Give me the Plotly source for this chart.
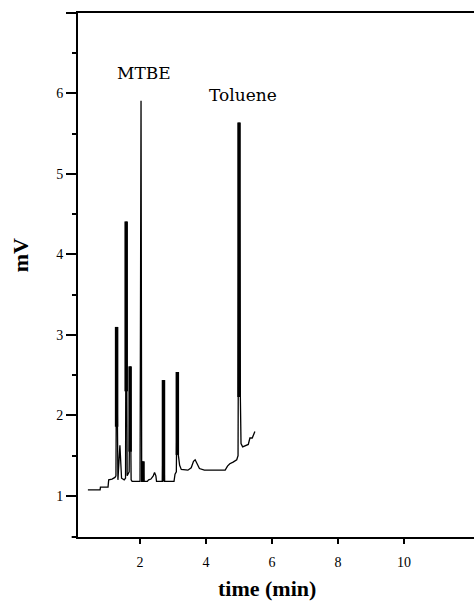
import plotly.graph_objects as go

# Chromatogram trace (time in min, signal in mV)
time_min = [0.42, 0.79, 0.80, 1.03, 1.05, 1.15, 1.24, 1.27, 1.29, 1.31, 1.33, 1.39, 1.44,
            1.52, 1.56, 1.58, 1.61, 1.67, 1.70, 1.73, 1.76, 2.00, 2.03, 2.05, 2.07, 2.09,
            2.11, 2.22, 2.26, 2.33, 2.40, 2.44, 2.48, 2.50, 2.68, 2.71, 2.74, 3.03, 3.06,
            3.10, 3.13, 3.16, 3.20, 3.25, 3.45, 3.55, 3.62, 3.67, 3.72, 3.80, 3.95, 4.58,
            4.65, 4.72, 4.82, 4.93, 4.97, 5.00, 5.04, 5.06, 5.11, 5.18, 5.28, 5.33, 5.40,
            5.48]
signal_mv = [1.075, 1.075, 1.11, 1.11, 1.20, 1.21, 1.23, 1.25, 3.10, 1.25, 1.20, 1.63, 1.22,
             1.20, 1.22, 4.41, 1.25, 1.30, 2.61, 1.20, 1.18, 1.18, 5.91, 1.18, 1.18, 1.43,
             1.18, 1.18, 1.20, 1.21, 1.25, 1.29, 1.25, 1.18, 1.18, 2.44, 1.18, 1.18, 1.27,
             1.30, 2.54, 1.51, 1.38, 1.33, 1.32, 1.35, 1.43, 1.45, 1.40, 1.34, 1.32, 1.32,
             1.37, 1.40, 1.42, 1.45, 1.50, 5.64, 2.23, 1.65, 1.61, 1.62, 1.64, 1.72, 1.72,
             1.80]

# Heavily over-plotted (thick) parts of the peaks
thick_time = [1.29, 1.58, 1.70, 2.09, 2.71, 3.13, 5.00]
thick_top = [3.10, 4.41, 2.61, 1.43, 2.44, 2.54, 5.64]
thick_bottom = [1.86, 2.30, 1.55, 1.18, 1.18, 1.51, 2.23]

peak_labels = ["MTBE", "Toluene"]
peak_label_time = [2.12, 5.12]
peak_label_mv = [6.25, 5.98]

x_ticks = [2, 4, 6, 8, 10]
y_ticks = [1, 2, 3, 4, 5, 6, 7]
y_ticktext = ["1", "2", "3", "4", "5", "6", ""]

fig = go.Figure()
fig.add_trace(go.Scatter(x=time_min, y=signal_mv, mode="lines",
                         line=dict(color="black", width=1.3), hoverinfo="skip",
                         showlegend=False))

tx, ty = [], []
for t, top, bot in zip(thick_time, thick_top, thick_bottom):
    tx += [t, t, None]
    ty += [bot, top, None]
fig.add_trace(go.Scatter(x=tx, y=ty, mode="lines",
                         line=dict(color="black", width=3.5), hoverinfo="skip",
                         showlegend=False))

for lab, t, v in zip(peak_labels, peak_label_time, peak_label_mv):
    fig.add_annotation(x=t, y=v, text=lab, showarrow=False,
                       font=dict(family="DejaVu Serif", size=17, color="black"))

serif = "Liberation Serif"
fig.add_annotation(xref="paper", yref="paper", x=0.477, y=-0.099, text="<b>time (min)</b>",
                   xanchor="center", yanchor="middle",
                   showarrow=False, font=dict(family=serif, size=22, color="black"))
fig.add_annotation(xref="paper", yref="paper", x=-0.146, y=0.538, text="<b>mV</b>",
                   xanchor="center", yanchor="middle",
                   textangle=-90, showarrow=False,
                   font=dict(family=serif, size=22, color="black"))

# small extension of the x axis line to the left of the y axis
fig.add_shape(type="line", xref="paper", yref="paper", x0=-0.016, x1=0, y0=0, y1=0,
              line=dict(color="black", width=2))

fig.update_layout(
    width=474, height=602,
    margin=dict(l=78, r=0, t=13, b=65),
    paper_bgcolor="white", plot_bgcolor="white",
    font=dict(family=serif, size=14, color="black"),
    xaxis=dict(range=[0.12, 12.12], tickvals=x_ticks, showgrid=False, zeroline=False,
               showline=True, linecolor="black", linewidth=2, mirror=True,
               ticks="outside", ticklen=5, tickwidth=1.5, tickcolor="black",
               ticklabelstandoff=6),
    yaxis=dict(range=[0.49, 7.0], tickvals=y_ticks, ticktext=y_ticktext,
               showgrid=False, zeroline=False, showline=True, linecolor="black",
               linewidth=2, ticks="outside", ticklen=10, tickwidth=1.5,
               tickcolor="black",
               minor=dict(tickvals=[1.5, 2.5, 3.5, 4.5, 5.5, 6.5], ticks="outside",
                          ticklen=4, tickwidth=2, tickcolor="black", showgrid=False)),
)

fig.write_html("out.html", config={"displayModeBar": False},
               post_script="document.body.style.margin='0';document.body.style.padding='0';")
